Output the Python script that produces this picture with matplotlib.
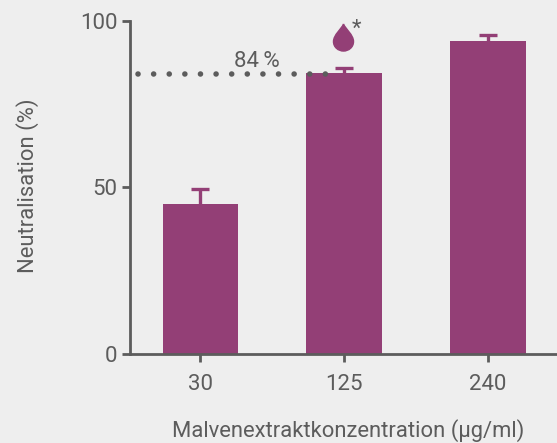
import matplotlib
matplotlib.use("Agg")
import matplotlib.pyplot as plt
from matplotlib.path import Path

plt.rcParams['font.family'] = ['Roboto', 'DejaVu Sans']

concentrations = ['30', '125', '240']
neutralisation = [45, 84.3, 94]
err_top = [49.5, 85.8, 95.8]
y_ticks = [0, 50, 100]
reference_level = 84

purple = '#933f76'
grey = '#5c5c5c'
bg = '#eeeeee'

# drop shape for the marker above the middle bar
drop = Path(
    [(0, 1), (-0.15, 0.62), (-0.74, 0.2), (-0.74, -0.3), (-0.74, -0.72), (-0.38, -1),
     (0, -1), (0.38, -1), (0.74, -0.72), (0.74, -0.3), (0.74, 0.2), (0.15, 0.62), (0, 1)],
    [Path.MOVETO] + [Path.CURVE4] * 12,
)

fig = plt.figure(figsize=(5.57, 4.43), dpi=100, facecolor=bg)
ax = fig.add_axes([130 / 557, (443 - 353.5) / 443, 427 / 557, 332.5 / 443], facecolor=bg)

x = list(range(len(concentrations)))
ax.bar(x, neutralisation, width=0.526, color=purple, zorder=2)
ax.vlines(x, neutralisation, err_top, color=purple, lw=2.4, zorder=1)
ax.plot(x, err_top, linestyle='none', marker='_', markersize=12.5, markeredgewidth=2.4,
        color=purple, zorder=1)

ax.plot([-0.435, 0.875], [reference_level, reference_level], color=grey, lw=4,
        linestyle=(0, (0.01, 2.8)), dash_capstyle='round', zorder=3)
ax.text(0.39, 84.8, '84\u2009%', color=grey, fontsize=16, ha='center', va='bottom')

ax.plot([0.99], [95.2], marker=drop, markersize=19.5, color=purple, clip_on=False, zorder=3)
ax.text(1.085, 97.6, '*', color=grey, fontsize=16, ha='center', va='center')

ax.set_xlim(-0.49, 2.48)
ax.set_ylim(0, 100)
ax.set_xticks(x)
ax.set_xticklabels(concentrations)
ax.set_yticks(y_ticks)
ax.tick_params(axis='both', colors=grey, labelsize=16, width=2, length=6, pad=9)
ax.tick_params(axis='y', pad=3)

for s in ['top', 'right']:
    ax.spines[s].set_visible(False)
for s in ['left', 'bottom']:
    ax.spines[s].set_color(grey)
    ax.spines[s].set_linewidth(2)

fig.text(348 / 557, 1 - 431 / 443, 'Malvenextraktkonzentration (µg/ml)', color=grey,
         fontsize=15.8, ha='center', va='center')
fig.text(28 / 557, 1 - 186 / 443, 'Neutralisation (%)', color=grey, fontsize=15.8,
         rotation=90, ha='center', va='center')

fig.savefig('out.png', dpi=100, facecolor=bg)
